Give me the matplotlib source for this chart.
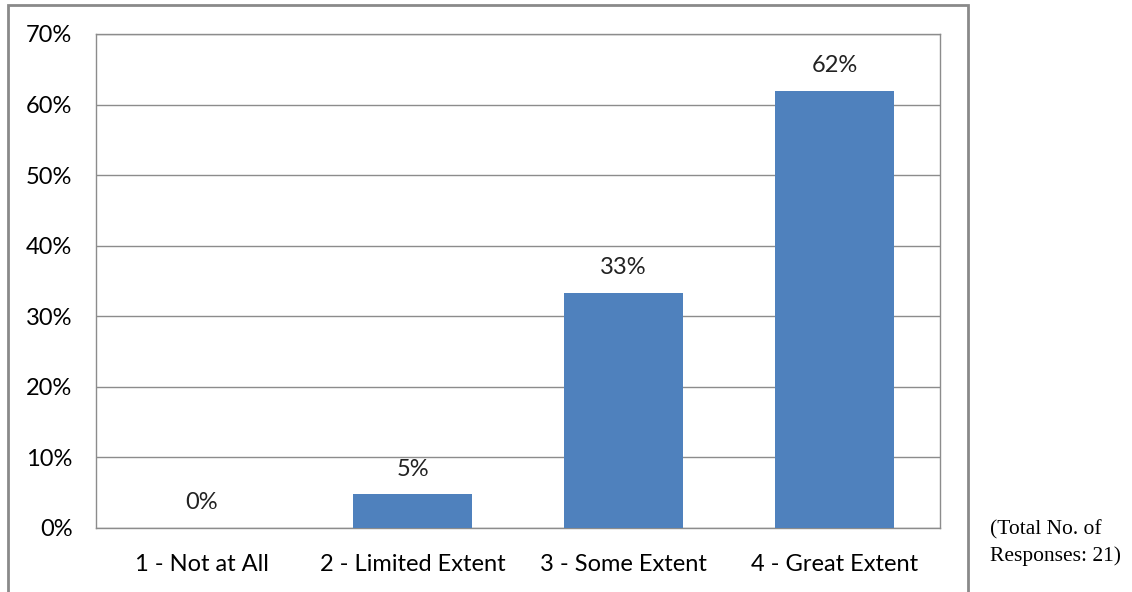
import matplotlib.pyplot as plt
from matplotlib.patches import Rectangle

categories = ['1 - Not at All', '2 - Limited Extent', '3 - Some Extent', '4 - Great Extent']
values = [0.0, 4.76, 33.33, 61.9]
labels = ['0%', '5%', '33%', '62%']
yticks = [0, 10, 20, 30, 40, 50, 60, 70]

W, H = 1132, 592
fig = plt.figure(figsize=(W / 100, H / 100), dpi=100)
ax = fig.add_axes([96 / W, 1 - 528 / H, (940 - 96) / W, (528 - 34) / H])

x = range(len(categories))
ax.bar(x, values, width=0.565, color='#4f81bd', zorder=3)
for i, (v, t) in enumerate(zip(values, labels)):
    ax.text(i, v + 3.6, t, ha='center', va='center', fontsize=17,
            family='Lato', color='#222222')

ax.set_xlim(-0.5, len(categories) - 0.5)
ax.set_ylim(0, 70)
ax.set_yticks(yticks)
ax.set_yticklabels([f'{t}%' for t in yticks], family='Lato', fontsize=17)
ax.set_xticks(list(x))
ax.set_xticklabels(categories, family='Lato', fontsize=17)
ax.tick_params(length=0)
ax.tick_params(axis='x', pad=19)
ax.tick_params(axis='y', pad=17)
ax.grid(axis='y', color='#8c8c8c', linewidth=1, zorder=0)
for s in ax.spines.values():
    s.set_color('#8c8c8c')
    s.set_linewidth(1)

# outer chart border
fig.patches.append(Rectangle((8 / W, -0.05), (968 - 8) / W, 1.05 - 5 / H,
                             transform=fig.transFigure, fill=False,
                             edgecolor='#8a8a8a', linewidth=2))

fig.text(990 / W, 1 - 530 / H, '(Total No. of', family='Liberation Serif',
         fontsize=15.5, va='center')
fig.text(990 / W, 1 - 556 / H, 'Responses: 21)', family='Liberation Serif',
         fontsize=15.5, va='center')

fig.savefig('out.png', dpi=100)
